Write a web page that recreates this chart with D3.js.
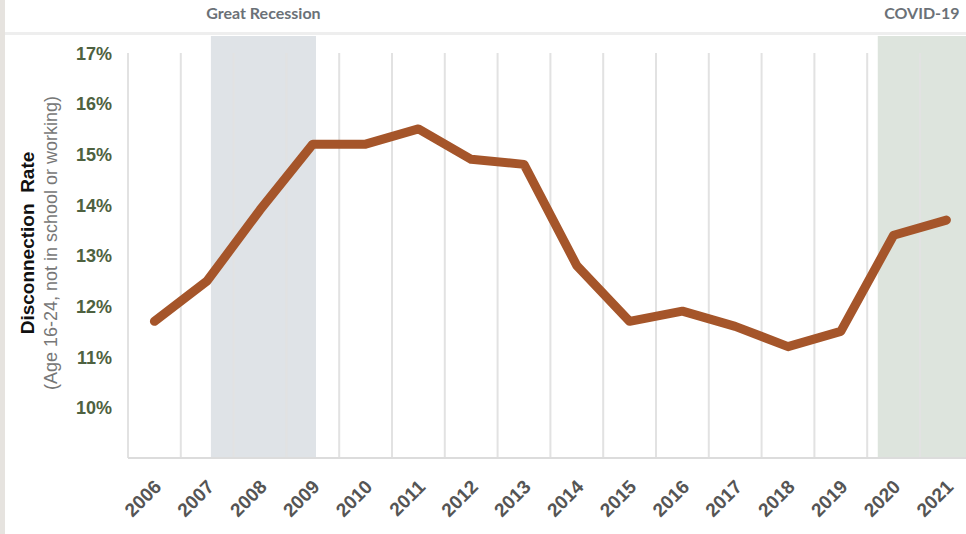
<!DOCTYPE html>
<html>
<head>
<meta charset="utf-8">
<script src="https://cdn.jsdelivr.net/npm/d3@7"></script>
<style>
  html, body { margin: 0; padding: 0; background: #ffffff; }
  svg { display: block; }
</style>
</head>
<body>
<svg id="chart" width="966" height="534"></svg>
<script>
// ---- data ----
const years = ["2006","2007","2008","2009","2010","2011","2012","2013","2014","2015","2016","2017","2018","2019","2020","2021"];
const rates = [11.7, 12.5, 13.9, 15.2, 15.2, 15.5, 14.9, 14.8, 12.8, 11.7, 11.9, 11.6, 11.2, 11.5, 13.4, 13.7];
const yTicks = [10, 11, 12, 13, 14, 15, 16, 17];
const periodNames = ["Great Recession", "COVID-19"];
const periodStart = [2007.57, 2020.2];
const periodEnd = [2009.56, 2022];

// ---- layout ----
const W = 966, H = 534;
const left = 128, bandW = 52.8;
const right = left + years.length * bandW;
const yTop = 53, yBottom = 458, shadeTop = 36;

const svg = d3.select("#chart");

// background strips
svg.append("rect").attr("x", 0).attr("y", 0).attr("width", 5).attr("height", H).attr("fill", "#e6e3df");
svg.append("rect").attr("x", 5).attr("y", 32).attr("width", W - 5).attr("height", 3).attr("fill", "#eeeeee");

const x = d3.scaleBand().domain(years).range([left, right]).padding(0);
const xLin = d3.scaleLinear().domain([2006, 2006 + years.length]).range([left, right]);
const y = d3.scaleLinear().domain([9, 17]).range([yBottom, yTop]);

// shaded periods
const shadeColors = ["#dfe3e7", "#dde4dd"];
periodNames.forEach((name, i) => {
  const x0 = xLin(periodStart[i]);
  const x1 = Math.min(xLin(periodEnd[i]), W);
  svg.append("rect")
    .attr("x", x0).attr("y", shadeTop)
    .attr("width", x1 - x0).attr("height", yBottom - shadeTop)
    .attr("fill", shadeColors[i]);
  svg.append("text")
    .attr("x", (x0 + x1) / 2).attr("y", 19)
    .attr("text-anchor", "middle")
    .attr("font-family", "Lato, 'Open Sans', sans-serif")
    .attr("font-weight", "bold")
    .attr("font-size", 16)
    .attr("fill", "#6b7177")
    .text(name);
});

// vertical gridlines at band edges
const edges = years.map(d => x(d));
svg.append("g").selectAll("line").data(edges).join("line")
  .attr("x1", d => d).attr("x2", d => d)
  .attr("y1", yTop).attr("y2", yBottom)
  .attr("stroke", "#e2e2e2").attr("stroke-width", 2);

// bottom axis line
svg.append("line")
  .attr("x1", left).attr("x2", W).attr("y1", yBottom).attr("y2", yBottom)
  .attr("stroke", "#dcdcdc").attr("stroke-width", 2);

// y axis
const yAxis = d3.axisLeft(y).tickValues(yTicks).tickFormat(d => d + "%").tickSize(0).tickPadding(0);
const gy = svg.append("g").attr("transform", `translate(112,0)`).call(yAxis);
gy.select(".domain").remove();
gy.selectAll("text")
  .attr("font-family", "Arial, 'Liberation Sans', sans-serif")
  .attr("font-weight", "bold")
  .attr("font-size", 18)
  .attr("fill", "#4e6140")
  .attr("dy", "0.35em");

// x axis
const xAxis = d3.axisBottom(x).tickSize(0).tickPadding(0);
const gx = svg.append("g").attr("transform", `translate(0,${yBottom})`).call(xAxis);
gx.select(".domain").remove();
gx.selectAll("text")
  .attr("font-family", "Arial, 'Liberation Sans', sans-serif")
  .attr("font-weight", "bold")
  .attr("font-size", 19)
  .attr("fill", "#555555")
  .attr("text-anchor", "end")
  .attr("dy", 0)
  .attr("transform", "translate(8,30) rotate(-45)");

// y titles
svg.append("text")
  .attr("transform", `translate(34,${243}) rotate(-90)`)
  .attr("text-anchor", "middle")
  .attr("font-family", "Arial, 'Liberation Sans', sans-serif")
  .attr("font-weight", "bold")
  .attr("font-size", 19)
  .attr("fill", "#111111")
  .attr("xml:space", "preserve")
  .text("Disconnection  Rate");
svg.append("text")
  .attr("transform", `translate(57,${243}) rotate(-90)`)
  .attr("text-anchor", "middle")
  .attr("font-family", "Arial, 'Liberation Sans', sans-serif")
  .attr("font-size", 18)
  .attr("fill", "#777777")
  .text("(Age 16-24, not in school or working)");

// line
const line = d3.line()
  .x((d, i) => x(years[i]) + x.bandwidth() / 2)
  .y(d => y(d));
svg.append("path")
  .datum(rates)
  .attr("d", line)
  .attr("fill", "none")
  .attr("stroke", "#a5552a")
  .attr("stroke-width", 9)
  .attr("stroke-linejoin", "round")
  .attr("stroke-linecap", "round");
</script>
</body>
</html>
